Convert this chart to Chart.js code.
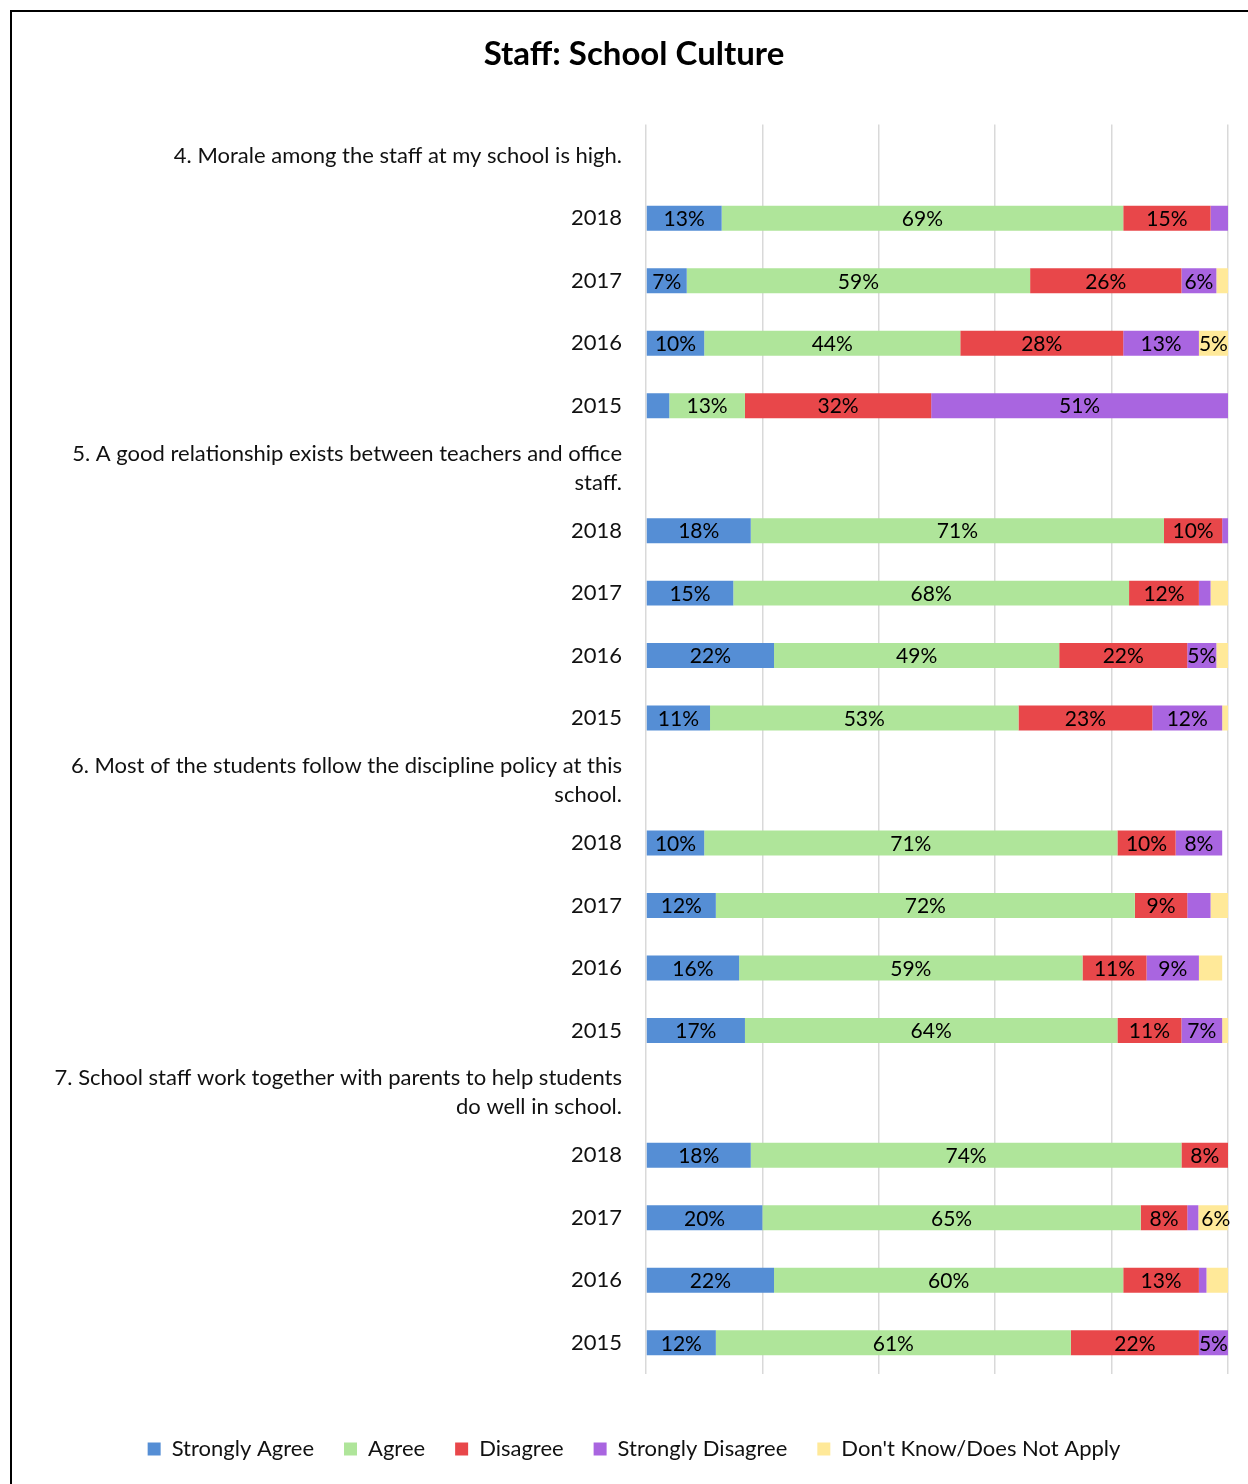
<!DOCTYPE html>
<html>
<head>
<meta charset="utf-8">
<title>Staff: School Culture</title>
<script src="https://cdn.jsdelivr.net/npm/chart.js@4.4.1/dist/chart.umd.min.js"></script>
<style>
    html, body { margin: 0; padding: 0; background: #fff; }
    .frame {
        position: absolute;
        left: 10px;
        top: 10px;
        width: 1300px;
        height: 1500px;
        border-left: 2px solid #000;
        border-top: 2px solid #000;
    }
    #cultureChart { position: absolute; left: 0; top: 0; }
</style>
</head>
<body>
<div class="frame"></div>
<canvas id="cultureChart" width="1248" height="1484"></canvas>
<script>
// Question headers are empty rows; the year rows under them carry the bars
const categories = [
    '4. Morale among the staff at my school is high.', '2018', '2017', '2016', '2015',
    ['5. A good relationship exists between teachers and office', 'staff.'], '2018', '2017', '2016', '2015',
    ['6. Most of the students follow the discipline policy at this', 'school.'], '2018', '2017', '2016', '2015',
    ['7. School staff work together with parents to help students', 'do well in school.'], '2018', '2017', '2016', '2015'
];

const seriesNames = ['Strongly Agree', 'Agree', 'Disagree', 'Strongly Disagree', "Don't Know/Does Not Apply"];

// percentages per row (null on header rows)
const stronglyAgree    = [null, 13, 7, 10, 4,  null, 18, 15, 22, 11, null, 10, 12, 16, 17, null, 18, 20, 22, 12];
const agree            = [null, 69, 59, 44, 13, null, 71, 68, 49, 53, null, 71, 72, 59, 64, null, 74, 65, 60, 61];
const disagree         = [null, 15, 26, 28, 32, null, 10, 12, 22, 23, null, 10, 9, 11, 11, null, 8, 8, 13, 22];
const stronglyDisagree = [null, 3, 6, 13, 51,  null, 1, 2, 5, 12,    null, 8, 4, 9, 7,     null, 0.7, 1.9, 1.3, 5];
const dontKnow         = [null, 0, 2, 5, 0,    null, 0, 3, 2, 1,     null, 0, 3, 4, 1,     null, 0, 6, 3.7, 0];

const xTicks = [0, 20, 40, 60, 80, 100];

const colors = ['#558ed5', '#afe59a', '#e8474a', '#a965e0', '#ffe999'];
const FONT = 'Lato, "Open Sans", sans-serif';

// percentage text in the middle of each segment that is wide enough
const segmentLabels = {
    id: 'segmentLabels',
    afterDatasetsDraw(chart) {
        const ctx = chart.ctx;
        ctx.save();
        ctx.font = '21px ' + FONT;
        ctx.fillStyle = '#000';
        ctx.textAlign = 'center';
        ctx.textBaseline = 'middle';
        chart.data.datasets.forEach((ds, i) => {
            const meta = chart.getDatasetMeta(i);
            meta.data.forEach((bar, j) => {
                const v = ds.data[j];
                if (v == null || v < 5) return;
                ctx.fillText(Math.round(v) + '%', (bar.x + bar.base) / 2, bar.y + 1);
            });
        });
        ctx.restore();
    }
};

const seriesData = [stronglyAgree, agree, disagree, stronglyDisagree, dontKnow];

new Chart(document.getElementById('cultureChart'), {
    type: 'bar',
    data: {
        labels: categories,
        datasets: seriesData.map((d, i) => ({
            label: seriesNames[i],
            data: d,
            backgroundColor: colors[i],
            borderWidth: 0,
            barPercentage: 0.4,
            categoryPercentage: 1
        }))
    },
    options: {
        indexAxis: 'y',
        responsive: false,
        animation: false,
        layout: {
            padding: { top: 0, right: 20, bottom: 14, left: 40 }
        },
        plugins: {
            title: {
                display: true,
                text: 'Staff: School Culture',
                color: '#000',
                font: { family: FONT, size: 33, weight: 'bold' },
                padding: { top: 35, bottom: 50 }
            },
            legend: {
                position: 'bottom',
                labels: {
                    color: '#111',
                    boxWidth: 13,
                    boxHeight: 13,
                    padding: 30,
                    font: { family: FONT, size: 22 }
                }
            },
            tooltip: { enabled: false }
        },
        scales: {
            x: {
                stacked: true,
                min: 0,
                max: 100,
                afterBuildTicks(scale) {
                    scale.ticks = xTicks.map(v => ({ value: v }));
                },
                afterFit(scale) {
                    scale.height = 34;
                },
                ticks: { display: false },
                grid: { color: '#d9d9d9', lineWidth: 1.5, drawTicks: false },
                border: { display: false }
            },
            y: {
                stacked: true,
                afterFit(scale) {
                    scale.width = 606;
                },
                ticks: {
                    color: '#111',
                    padding: 16,
                    font: { family: FONT, size: 22, lineHeight: 1.32 }
                },
                grid: { display: false },
                border: { display: false }
            }
        }
    },
    plugins: [segmentLabels]
});
</script>
</body>
</html>
